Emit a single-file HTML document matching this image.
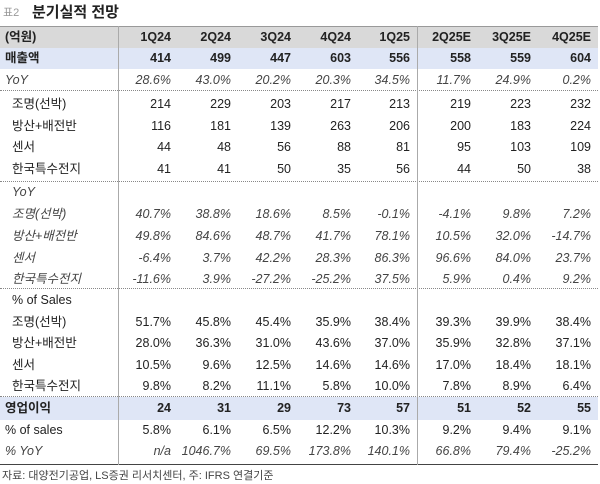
<!DOCTYPE html>
<html><head><meta charset="utf-8"><style>
body{margin:0;width:600px;height:484px;background:#fff;overflow:hidden;position:relative;font-family:"Liberation Sans","Noto Sans CJK KR",sans-serif;color:#222;}
.r{position:absolute;left:0;width:598px;height:20px;line-height:20px;font-size:12.5px;}
.r span{position:absolute;}
.l{left:5px}.li{left:12px}
.c1{right:427px}.c2{right:367px}.c3{right:307px}.c4{right:247px}.c5{right:188px}.c6{right:127px}.c7{right:67px}.c8{right:7px}
.it{font-style:italic;color:#444}
.b{font-weight:bold}
.band{position:absolute;left:0;width:598px;}
.dot{position:absolute;left:0;width:598px;border-top:1px dotted #888;height:0}
.v{position:absolute;width:1px;background:#aaa;top:26px;height:439px}
</style></head><body>
<div style="position:absolute;left:3px;top:4px;font-size:11px;color:#999">표2</div>
<div style="position:absolute;left:32px;top:1px;font-size:15px;font-weight:bold;color:#222">분기실적 전망</div>
<div class="band" style="top:26px;height:22px;background:#d9d9d9;border-top:1px solid #999"></div>
<div class="band" style="top:48px;height:21px;background:#dfe6f6"></div>
<div class="band" style="top:397px;height:23px;background:#dfe6f6"></div>
<div class="dot" style="top:90px"></div>
<div class="dot" style="top:181px"></div>
<div class="dot" style="top:288px"></div>
<div class="dot" style="top:396px"></div>
<div style="position:absolute;left:0;width:598px;top:464px;border-top:1px solid #444"></div>
<div class="v" style="left:118px"></div>
<div class="v" style="left:417px"></div>

<div class="r b" style="top:27px"><span class="l">(억원)</span><span class="c1">1Q24</span><span class="c2">2Q24</span><span class="c3">3Q24</span><span class="c4">4Q24</span><span class="c5">1Q25</span><span class="c6">2Q25E</span><span class="c7">3Q25E</span><span class="c8">4Q25E</span></div>
<div class="r b" style="top:48px"><span class="l">매출액</span><span class="c1">414</span><span class="c2">499</span><span class="c3">447</span><span class="c4">603</span><span class="c5">556</span><span class="c6">558</span><span class="c7">559</span><span class="c8">604</span></div>
<div class="r it" style="top:70px"><span class="l">YoY</span><span class="c1">28.6%</span><span class="c2">43.0%</span><span class="c3">20.2%</span><span class="c4">20.3%</span><span class="c5">34.5%</span><span class="c6">11.7%</span><span class="c7">24.9%</span><span class="c8">0.2%</span></div>

<div class="r" style="top:94px"><span class="li">조명(선박)</span><span class="c1">214</span><span class="c2">229</span><span class="c3">203</span><span class="c4">217</span><span class="c5">213</span><span class="c6">219</span><span class="c7">223</span><span class="c8">232</span></div>
<div class="r" style="top:116px"><span class="li">방산+배전반</span><span class="c1">116</span><span class="c2">181</span><span class="c3">139</span><span class="c4">263</span><span class="c5">206</span><span class="c6">200</span><span class="c7">183</span><span class="c8">224</span></div>
<div class="r" style="top:137px"><span class="li">센서</span><span class="c1">44</span><span class="c2">48</span><span class="c3">56</span><span class="c4">88</span><span class="c5">81</span><span class="c6">95</span><span class="c7">103</span><span class="c8">109</span></div>
<div class="r" style="top:159px"><span class="li">한국특수전지</span><span class="c1">41</span><span class="c2">41</span><span class="c3">50</span><span class="c4">35</span><span class="c5">56</span><span class="c6">44</span><span class="c7">50</span><span class="c8">38</span></div>

<div class="r it" style="top:182px"><span class="li">YoY</span></div>
<div class="r it" style="top:204px"><span class="li">조명(선박)</span><span class="c1">40.7%</span><span class="c2">38.8%</span><span class="c3">18.6%</span><span class="c4">8.5%</span><span class="c5">-0.1%</span><span class="c6">-4.1%</span><span class="c7">9.8%</span><span class="c8">7.2%</span></div>
<div class="r it" style="top:226px"><span class="li">방산+배전반</span><span class="c1">49.8%</span><span class="c2">84.6%</span><span class="c3">48.7%</span><span class="c4">41.7%</span><span class="c5">78.1%</span><span class="c6">10.5%</span><span class="c7">32.0%</span><span class="c8">-14.7%</span></div>
<div class="r it" style="top:248px"><span class="li">센서</span><span class="c1">-6.4%</span><span class="c2">3.7%</span><span class="c3">42.2%</span><span class="c4">28.3%</span><span class="c5">86.3%</span><span class="c6">96.6%</span><span class="c7">84.0%</span><span class="c8">23.7%</span></div>
<div class="r it" style="top:269px"><span class="li">한국특수전지</span><span class="c1">-11.6%</span><span class="c2">3.9%</span><span class="c3">-27.2%</span><span class="c4">-25.2%</span><span class="c5">37.5%</span><span class="c6">5.9%</span><span class="c7">0.4%</span><span class="c8">9.2%</span></div>

<div class="r" style="top:290px"><span class="li">% of Sales</span></div>
<div class="r" style="top:312px"><span class="li">조명(선박)</span><span class="c1">51.7%</span><span class="c2">45.8%</span><span class="c3">45.4%</span><span class="c4">35.9%</span><span class="c5">38.4%</span><span class="c6">39.3%</span><span class="c7">39.9%</span><span class="c8">38.4%</span></div>
<div class="r" style="top:333px"><span class="li">방산+배전반</span><span class="c1">28.0%</span><span class="c2">36.3%</span><span class="c3">31.0%</span><span class="c4">43.6%</span><span class="c5">37.0%</span><span class="c6">35.9%</span><span class="c7">32.8%</span><span class="c8">37.1%</span></div>
<div class="r" style="top:355px"><span class="li">센서</span><span class="c1">10.5%</span><span class="c2">9.6%</span><span class="c3">12.5%</span><span class="c4">14.6%</span><span class="c5">14.6%</span><span class="c6">17.0%</span><span class="c7">18.4%</span><span class="c8">18.1%</span></div>
<div class="r" style="top:376px"><span class="li">한국특수전지</span><span class="c1">9.8%</span><span class="c2">8.2%</span><span class="c3">11.1%</span><span class="c4">5.8%</span><span class="c5">10.0%</span><span class="c6">7.8%</span><span class="c7">8.9%</span><span class="c8">6.4%</span></div>

<div class="r b" style="top:398px"><span class="l">영업이익</span><span class="c1">24</span><span class="c2">31</span><span class="c3">29</span><span class="c4">73</span><span class="c5">57</span><span class="c6">51</span><span class="c7">52</span><span class="c8">55</span></div>
<div class="r" style="top:420px"><span class="l">% of sales</span><span class="c1">5.8%</span><span class="c2">6.1%</span><span class="c3">6.5%</span><span class="c4">12.2%</span><span class="c5">10.3%</span><span class="c6">9.2%</span><span class="c7">9.4%</span><span class="c8">9.1%</span></div>
<div class="r it" style="top:441px"><span class="l">% YoY</span><span class="c1">n/a</span><span class="c2">1046.7%</span><span class="c3">69.5%</span><span class="c4">173.8%</span><span class="c5">140.1%</span><span class="c6">66.8%</span><span class="c7">79.4%</span><span class="c8">-25.2%</span></div>

<div style="position:absolute;left:2px;top:467px;font-size:11px;color:#444">자료: 대양전기공업, LS증권 리서치센터, 주: IFRS 연결기준</div>
</body></html>
